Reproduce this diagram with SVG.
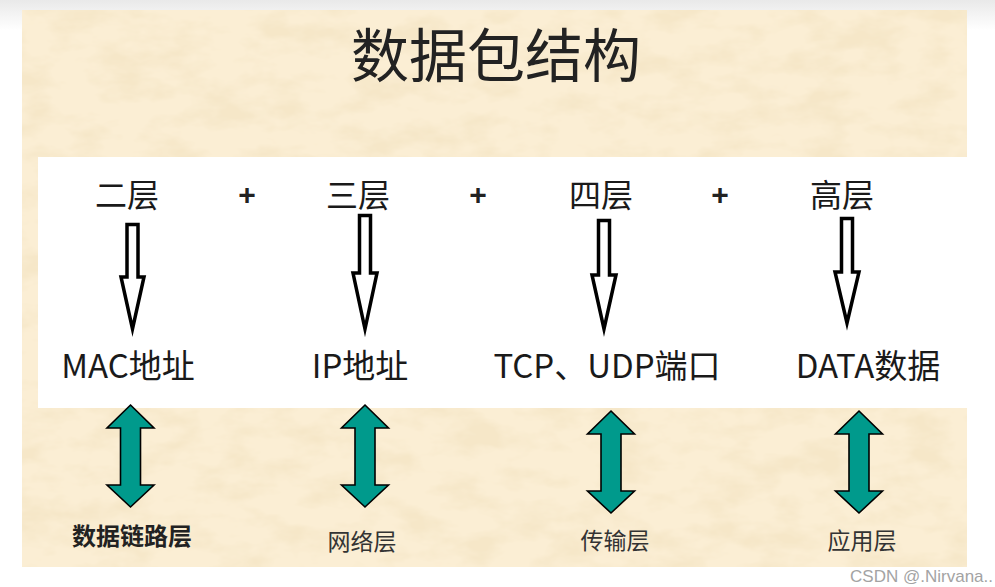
<svg xmlns="http://www.w3.org/2000/svg" xmlns:xlink="http://www.w3.org/1999/xlink" width="995" height="587" viewBox="0 0 995 587">
<style>
.cjk{font-family:"Noto Sans CJK SC","Noto Sans",sans-serif;fill:#1a1a1a}
.title{font-size:58px;fill:#222}
.layer{font-size:32px}
.plus{font-size:30px;font-weight:bold;font-family:"Liberation Sans",sans-serif;fill:#222}
.addr{font-size:33px}
.osi{font-size:23px;fill:#333}
.osib{font-size:24px;font-weight:bold;fill:#222}
.down{fill:#fff;stroke:#000;stroke-width:3.5;stroke-linejoin:miter;stroke-miterlimit:6}
.dbl{fill:#009a8c;stroke:#000;stroke-width:1.6;stroke-linejoin:miter}
.wm{font-family:"Liberation Sans",Arial,sans-serif;font-size:17px;fill:#a3a3a3}
</style>
<defs>
<linearGradient id="topg" x1="0" y1="0" x2="0" y2="1">
<stop offset="0" stop-color="#e9e9e9"/>
<stop offset="1" stop-color="#ffffff"/>
</linearGradient>
<filter id="paper" x="0" y="0" width="100%" height="100%" filterUnits="objectBoundingBox">
<feTurbulence type="fractalNoise" baseFrequency="0.02 0.04" numOctaves="4" seed="7" result="n"/>
<feColorMatrix in="n" type="matrix" values="0 0 0 0 0.92  0 0 0 0 0.80  0 0 0 0 0.58  0 0 0 3 -1.25"/>
</filter>
<path id="dbl" d="M0,0 L23.5,23 L10,23 L10,80 L23.5,80 L0,102 L-23.5,80 L-10,80 L-10,23 L-23.5,23 Z"/>
</defs>

<g id="background">
<rect x="0" y="0" width="995" height="587" fill="#ffffff"/>
<rect x="0" y="0" width="995" height="30" fill="url(#topg)"/>
<rect x="22" y="10" width="945" height="557" fill="#fbeed4"/>
<rect x="22" y="10" width="945" height="557" fill="#fff" filter="url(#paper)"/>
<rect x="38" y="157" width="957" height="251" fill="#ffffff"/>
</g>

<g id="title">
<text class="cjk title" x="496" y="77" text-anchor="middle">数据包结构</text>
</g>

<g id="connectors">
<path class="down" d="M127,224.5 H138 V277 H144 L132.5,329 L121,277 H127 Z"/>
<path class="down" d="M359.5,215.5 H370.5 V273 H377 L365,329 L353,273 H359.5 Z"/>
<path class="down" d="M598.5,220.5 H609.5 V275 H616 L604,329 L592,275 H598.5 Z"/>
<path class="down" d="M841.5,218.5 H852.5 V272 H859 L847,323 L835,272 H841.5 Z"/>
<use xlink:href="#dbl" class="dbl" transform="translate(130.5,405)"/>
<use xlink:href="#dbl" class="dbl" transform="translate(365,405)"/>
<use xlink:href="#dbl" class="dbl" transform="translate(611,411)"/>
<use xlink:href="#dbl" class="dbl" transform="translate(859,411)"/>
</g>

<g id="node-l2">
<text class="cjk layer" x="127" y="207" text-anchor="middle">二层</text>
<text class="cjk addr" x="128" y="378" text-anchor="middle">MAC地址</text>
<text class="cjk osib" x="132" y="545" text-anchor="middle">数据链路层</text>
</g>
<g id="node-l3">
<text class="cjk layer" x="358" y="207" text-anchor="middle">三层</text>
<text class="cjk addr" x="360" y="378" text-anchor="middle">IP地址</text>
<text class="cjk osi" x="362" y="550" text-anchor="middle">网络层</text>
</g>
<g id="node-l4">
<text class="cjk layer" x="601" y="207" text-anchor="middle">四层</text>
<text class="cjk addr" x="607" y="378" text-anchor="middle">TCP、UDP端口</text>
<text class="cjk osi" x="615" y="549" text-anchor="middle">传输层</text>
</g>
<g id="node-high">
<text class="cjk layer" x="842" y="207" text-anchor="middle">高层</text>
<text class="cjk addr" x="868" y="378" text-anchor="middle">DATA数据</text>
<text class="cjk osi" x="862" y="549" text-anchor="middle">应用层</text>
</g>

<g id="plus-signs">
<text class="plus" x="247" y="205" text-anchor="middle">+</text>
<text class="plus" x="478" y="205" text-anchor="middle">+</text>
<text class="plus" x="720" y="205" text-anchor="middle">+</text>
</g>

<g id="watermark">
<text class="wm" x="993" y="582" text-anchor="end">CSDN @.Nirvana..</text>
</g>
</svg>
